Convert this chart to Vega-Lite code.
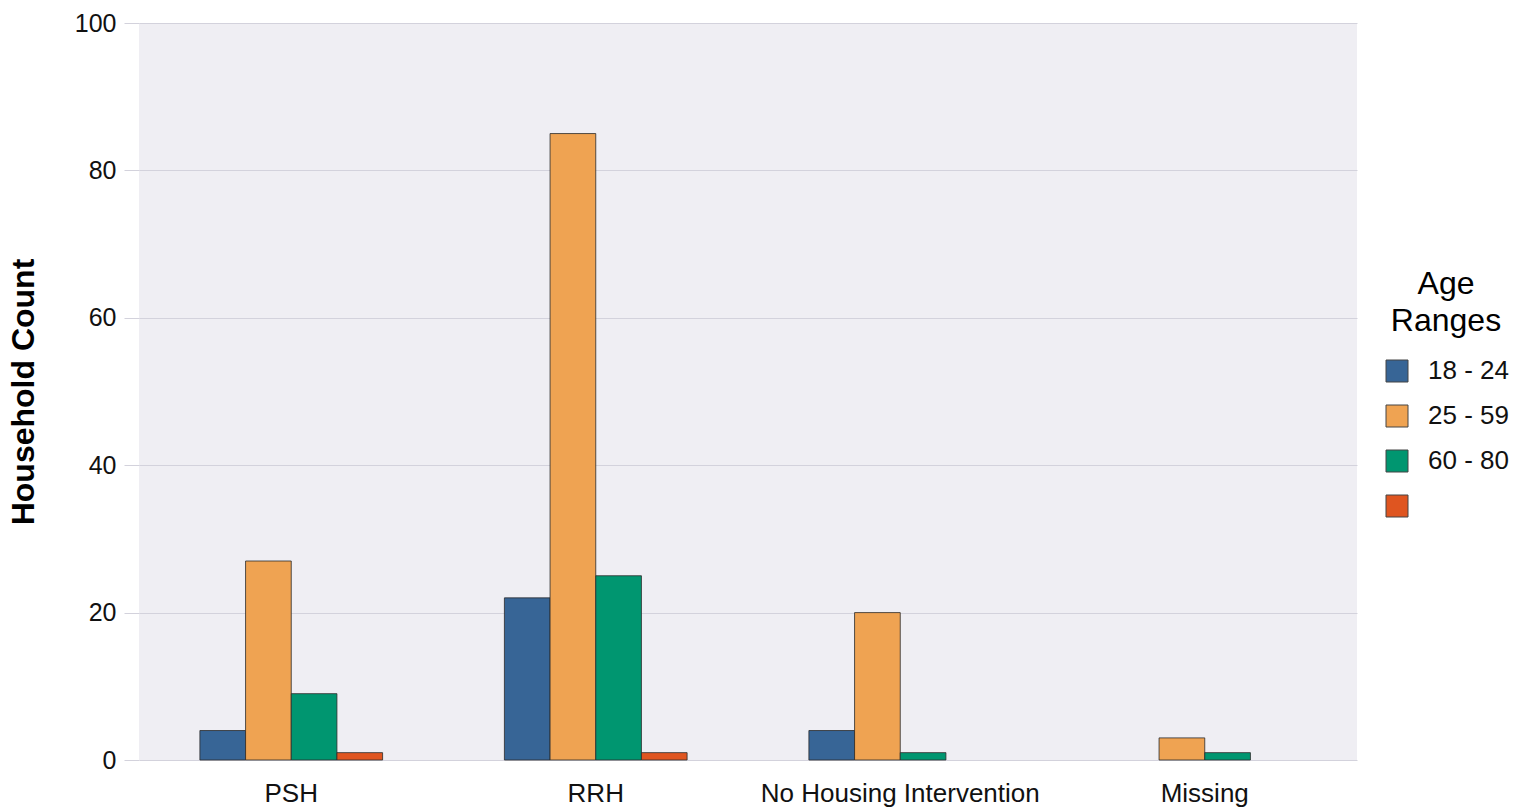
{
  "$schema": "https://vega.github.io/schema/vega-lite/v6.json",
  "width": 1218,
  "height": 737,
  "autosize": {"type": "none"},
  "padding": {"left": 139, "top": 23, "right": 178, "bottom": 47},
  "background": "white",
  "config": {
    "font": "Liberation Sans",
    "view": {"fill": "#EFEEF3", "stroke": null}
  },
  "data": {
    "values": [
      {"intervention": "PSH", "age": "18 - 24", "count": 4},
      {"intervention": "PSH", "age": "25 - 59", "count": 27},
      {"intervention": "PSH", "age": "60 - 80", "count": 9},
      {"intervention": "PSH", "age": "NA", "count": 1},
      {"intervention": "RRH", "age": "18 - 24", "count": 22},
      {"intervention": "RRH", "age": "25 - 59", "count": 85},
      {"intervention": "RRH", "age": "60 - 80", "count": 25},
      {"intervention": "RRH", "age": "NA", "count": 1},
      {"intervention": "No Housing Intervention", "age": "18 - 24", "count": 4},
      {"intervention": "No Housing Intervention", "age": "25 - 59", "count": 20},
      {"intervention": "No Housing Intervention", "age": "60 - 80", "count": 1},
      {"intervention": "Missing", "age": "25 - 59", "count": 3},
      {"intervention": "Missing", "age": "60 - 80", "count": 1}
    ]
  },
  "mark": {"type": "bar", "stroke": "#2b2b2b", "strokeWidth": 1, "strokeOpacity": 0.8},
  "encoding": {
    "x": {
      "field": "intervention",
      "type": "nominal",
      "sort": ["PSH", "RRH", "No Housing Intervention", "Missing"],
      "scale": {"paddingInner": 0.4, "paddingOuter": 0.2},
      "axis": {
        "title": null,
        "labelAngle": 0,
        "labelFontSize": 26,
        "labelColor": "#111",
        "labelPadding": 20,
        "labelLimit": 500,
        "ticks": false,
        "domain": false,
        "grid": false
      }
    },
    "xOffset": {
      "field": "age",
      "type": "nominal",
      "sort": ["18 - 24", "25 - 59", "60 - 80", "NA"],
      "scale": {"paddingInner": 0, "paddingOuter": 0}
    },
    "y": {
      "field": "count",
      "type": "quantitative",
      "scale": {"domain": [0, 100], "nice": false},
      "axis": {
        "title": "Household Count",
        "titleFontSize": 32,
        "titleFontWeight": "bold",
        "titleColor": "#000",
        "titlePadding": 34,
        "values": [0, 20, 40, 60, 80, 100],
        "labelFontSize": 25,
        "labelColor": "#111",
        "labelPadding": 8,
        "tickSize": 15,
        "tickColor": "#D3D2DC",
        "gridColor": "#D3D2DC",
        "gridWidth": 1,
        "domain": false
      }
    },
    "color": {
      "field": "age",
      "type": "nominal",
      "sort": ["18 - 24", "25 - 59", "60 - 80", "NA"],
      "scale": {
        "domain": ["18 - 24", "25 - 59", "60 - 80", "NA"],
        "range": ["#376596", "#EFA352", "#009670", "#DF5520"]
      },
      "legend": {
        "title": ["\u00a0\u00a0Age", "\u00a0\u00a0Ranges"],
        "titleFontSize": 32,
        "titleFontWeight": "normal",
        "titleColor": "#000",
        "titleAlign": "center",
        "titleAnchor": "middle",
        "titleLineHeight": 37,
        "titlePadding": 20,
        "labelFontSize": 26,
        "labelColor": "#111",
        "labelExpr": "datum.label == 'NA' ? '' : datum.label",
        "labelOffset": 18,
        "labelLimit": 300,
        "symbolType": "square",
        "symbolSize": 484,
        "symbolStrokeColor": "#444",
        "symbolStrokeWidth": 1,
        "rowPadding": 19,
        "orient": "none",
        "legendX": 1245,
        "legendY": 246
      }
    }
  }
}
